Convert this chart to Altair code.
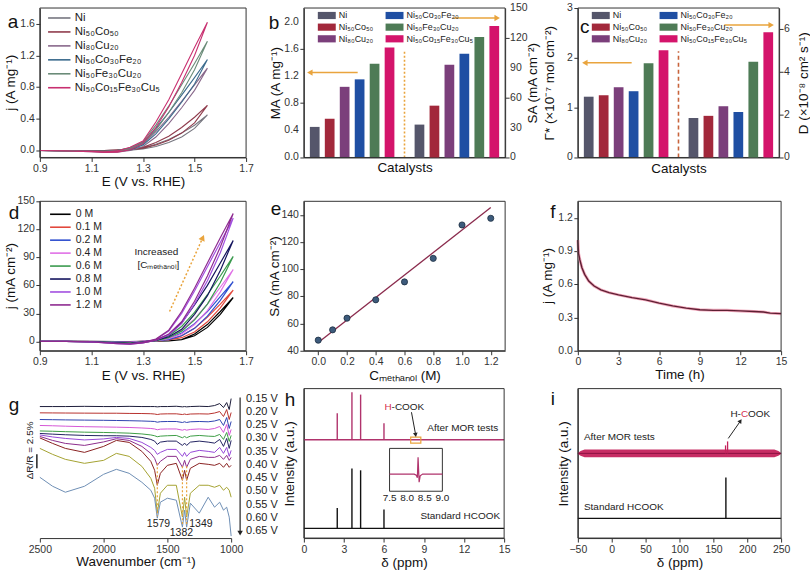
import altair as alt
import pandas as pd

FONT = "Liberation Sans"
INK = "#222222"
AXIS_INK = "#333333"
ORANGE = "#E9A43D"
TICK_FS = 10.5
TITLE_FS = 13.5

# ---------------- categories / colours ----------------
catalysts = ["Ni", "Ni₅₀Co₅₀", "Ni₈₀Cu₂₀", "Ni₅₀Co₃₀Fe₂₀", "Ni₅₀Fe₃₀Cu₂₀", "Ni₅₀Co₁₅Fe₃₀Cu₅"]
bar_colors = ["#55566b", "#a2283b", "#7b3f7b", "#1f4fa3", "#4e7b56", "#d4146b"]
line_colors_a = ["#76767f", "#8f3b4c", "#88678a", "#3b6b8d", "#6a8b78", "#c83070"]

# ---------------- (a) LSV, mass activity ----------------
E_a = [0.90, 1.00, 1.10, 1.15, 1.20, 1.25, 1.30, 1.35, 1.40, 1.45, 1.50, 1.55]
j_a_fwd = [
    [0.0, -0.005, -0.005, 0.0, 0.005, 0.015, 0.03, 0.08, 0.14, 0.22, 0.32, 0.45],
    [0.0, -0.005, -0.005, 0.0, 0.01, 0.02, 0.04, 0.10, 0.18, 0.29, 0.42, 0.57],
    [0.0, -0.005, -0.01, -0.015, -0.005, 0.02, 0.08, 0.24, 0.42, 0.62, 0.83, 1.04],
    [0.0, -0.005, -0.01, -0.01, 0.0, 0.03, 0.10, 0.28, 0.48, 0.70, 0.92, 1.15],
    [0.0, -0.005, -0.01, -0.01, 0.0, 0.035, 0.11, 0.32, 0.56, 0.83, 1.10, 1.38],
    [0.0, -0.005, -0.01, -0.015, -0.005, 0.04, 0.12, 0.36, 0.64, 0.97, 1.30, 1.62],
]
j_a_bwd = [
    [0.0, -0.005, -0.01, -0.01, -0.005, 0.005, 0.02, 0.05, 0.10, 0.17, 0.28, 0.45],
    [0.0, -0.005, -0.01, -0.01, 0.0, 0.01, 0.03, 0.07, 0.13, 0.22, 0.35, 0.57],
    [0.0, -0.005, -0.015, -0.025, -0.02, 0.0, 0.05, 0.17, 0.34, 0.54, 0.76, 1.04],
    [0.0, -0.005, -0.01, -0.015, -0.01, 0.01, 0.07, 0.21, 0.40, 0.61, 0.84, 1.15],
    [0.0, -0.005, -0.01, -0.015, -0.01, 0.02, 0.09, 0.26, 0.48, 0.73, 1.02, 1.38],
    [0.0, -0.005, -0.015, -0.025, -0.02, 0.01, 0.09, 0.29, 0.55, 0.86, 1.20, 1.62],
]
a_yticks = [0, 0.4, 0.8, 1.2, 1.6]

# ---------------- (b), (c) bars ----------------
mass_activity = [0.45, 0.57, 1.04, 1.15, 1.38, 1.62]
specific_activity = [33, 52, 93, 104, 121, 132]
gamma_star = [1.22, 1.25, 1.41, 1.33, 1.89, 2.15]
diffusion_coef = [1.85, 1.95, 2.40, 2.13, 4.48, 5.87]
b_lticks = [0, 0.4, 0.8, 1.2, 1.6, 2.0]
b_rticks = [0, 30, 60, 90, 120, 150]
c_lticks = [0, 1, 2, 3]
c_rticks = [0, 2, 4, 6]

# ---------------- (d) LSV vs methanol concentration ----------------
concentrations = ["0 M", "0.1 M", "0.2 M", "0.4 M", "0.6 M", "0.8 M", "1.0 M", "1.2 M"]
d_colors = ["#000000", "#e2483c", "#2f4fcf", "#e070e6", "#3a9a4e", "#14145e", "#a24fe0", "#8e2a90"]
E_d = [0.90, 1.00, 1.10, 1.20, 1.25, 1.30, 1.35, 1.40, 1.45, 1.50, 1.55, 1.60, 1.65]
j_d_fwd = [
    [0, 0, 0, -0.3, -0.3, 0, 0.2, 0.5, 2, 8, 18, 32, 47],
    [0, 0, -0.2, -0.5, -0.5, 0, 0.4, 2, 6, 14, 26, 40, 55],
    [0, 0, -0.2, -0.5, -0.6, 0, 0.6, 3, 9, 19, 32, 48, 64],
    [0, 0, -0.3, -1, -1, 0, 1, 4, 12, 24, 40, 58, 77],
    [0, 0, -0.3, -1, -1.5, -0.5, 1.2, 6, 16, 31, 50, 70, 91],
    [0, 0, -0.3, -1.5, -2, -0.5, 1.5, 7, 20, 39, 60, 84, 108],
    [0, 0, -0.5, -2, -2.5, -1, 2, 11, 30, 54, 80, 106, 132],
    [0, 0, -0.5, -2, -2.5, -1, 2.5, 12, 32, 57, 84, 111, 137],
]
j_d_bwd = [
    [0, 0, 0, -0.2, -0.2, 0, 0.2, 0.6, 2, 6, 15, 29, 47],
    [0, 0, -0.1, -0.4, -0.4, 0, 0.4, 1.5, 4, 10, 21, 36, 55],
    [0, 0, -0.2, -0.5, -0.6, -0.2, 0.5, 2, 6, 14, 27, 44, 64],
    [0, 0, -0.3, -1, -1.2, -0.4, 0.6, 3, 8, 18, 33, 53, 77],
    [0, 0, -0.3, -1.2, -1.6, -0.8, 0.6, 4, 11, 23, 40, 63, 91],
    [0, 0, -0.4, -1.8, -2.4, -1, 1, 5, 13, 29, 49, 76, 108],
    [0, 0, -0.6, -2.4, -3, -1.5, 1.2, 7, 19, 40, 65, 95, 132],
    [0, 0, -0.6, -2.4, -3, -1.5, 1.4, 8, 21, 43, 70, 101, 137],
]
d_yticks = [0, 30, 60, 90, 120, 150]

# ---------------- (e) SA vs C_methanol ----------------
c_methanol = [0.0, 0.1, 0.2, 0.4, 0.6, 0.8, 1.0, 1.2]
sa_methanol = [47.8, 55.4, 64.0, 77.5, 90.7, 108.0, 132.6, 137.5]
fit_c = [0.0, 1.2]
fit_sa = [46.0, 145.4]
e_yticks = [40, 60, 80, 100, 120, 140]

# ---------------- (f) chronoamperometry ----------------
time_h = [0, 0.05, 0.15, 0.3, 0.5, 0.8, 1.2, 1.7, 2.3, 3, 4, 5, 6, 7, 8, 9, 10, 11, 12, 13, 13.7, 14.2, 15]
j_time = [1.0, 0.88, 0.82, 0.75, 0.69, 0.63, 0.585, 0.55, 0.525, 0.505, 0.48, 0.46, 0.43, 0.405, 0.385,
          0.37, 0.365, 0.365, 0.36, 0.355, 0.35, 0.34, 0.335]
f_yticks = [0, 0.3, 0.6, 0.9, 1.2]

# ---------------- (g) in-situ IR ----------------
potentials = ["0.15 V", "0.20 V", "0.25 V", "0.30 V", "0.35 V", "0.40 V", "0.45 V", "0.50 V", "0.55 V", "0.60 V", "0.65 V"]
g_colors = ["#1d1d3a", "#b8322e", "#2f43b0", "#d556d6", "#3e9e46", "#232361", "#9748d8", "#8c2c8c", "#8a2222", "#a5a332", "#6e8fb5"]
wavenumber = [2500, 2400, 2300, 2150, 2000, 1900, 1800, 1700, 1630, 1600, 1579, 1555, 1500, 1430, 1382, 1365, 1349,
              1320, 1250, 1180, 1130, 1090, 1060, 1035, 1015, 1000]
g_spectra = [
    [132, 132, 132, 132.2, 132, 132, 132.2, 132, 132, 132, 131.7, 132, 132, 132.3, 131.7, 132, 131.7, 132, 132.3, 132, 133, 135, 131, 136, 129, 140],
    [125.7, 125.6, 125.5, 125.4, 125.3, 125.3, 125.1, 125, 124.8, 124.5, 124, 124.5, 124.7, 124.7, 124, 124.5, 124, 124.5, 124.7, 124.5, 125.5, 127, 122, 129, 119, 126],
    [119, 118.8, 118.6, 118.4, 118.2, 118, 117.8, 117.5, 117.2, 117, 116.3, 116.8, 117, 117, 116, 116.7, 116, 116.7, 117, 116.7, 117.5, 119, 113, 121, 110, 117],
    [113, 112.7, 112.3, 111.8, 111.5, 111.3, 111, 110.5, 110, 109.5, 108.7, 109.3, 109.5, 109.5, 108.3, 109, 108.3, 109, 109.5, 109, 110, 112, 106, 114, 103, 109],
    [107.5, 107.2, 106.8, 106.3, 106, 105.7, 105.3, 104.5, 103.5, 102.7, 101.7, 102.3, 102.7, 103, 100.7, 102, 100.7, 102.3, 103, 102.3, 102, 104, 99, 106, 97, 103],
    [105, 104.3, 103.7, 103, 102.7, 102.7, 102.3, 101, 99, 97.3, 94, 96.3, 97.3, 97.3, 93, 95.3, 93, 96.3, 97.3, 96.3, 95.3, 99, 92, 100, 90, 98],
    [103.5, 101.5, 100, 98.5, 99.5, 101, 100, 96, 91, 88, 84, 86, 89, 89, 82, 86, 82, 86, 88, 87, 86, 91, 85, 91, 82, 88],
    [102, 98, 95, 93, 96.5, 99.7, 98, 92, 85, 80, 73, 77, 82, 82, 71, 78, 71, 79, 82, 81, 81, 83, 79, 83, 78, 81],
    [100.5, 95, 90, 86, 92, 98, 96, 87, 77, 68, 53, 65, 73, 75, 58, 68, 58, 70, 75, 74, 73, 75, 71, 75, 71, 73],
    [90, 84, 79, 75, 78, 85, 82, 72, 60, 50, 25, 45, 53, 53, 21, 41, 21, 45, 53, 53, 51, 53, 48, 51, 48, 41],
    [61, 52, 46, 52, 64, 69, 65, 56, 48, 40, 20, 36, 40, 38, 11, 28, 11, 35, 25, 41, 31, 36, 28, 31, 21, 2],
]
peak_wavenumbers = [1579, 1382, 1349]
peak_line_top = [75, 72, 72]
peak_line_bottom = [22, 14, 14]
peak_labels = ["1579", "1382", "1349"]
peak_label_w = [1570, 1390, 1237]
peak_label_h = [14, 5, 14]

# ---------------- (h) 1H NMR ----------------
h_spectra = ["After MOR tests", "Standard HCOOK"]
h_colors = ["#b0336c", "#111111"]
h_baselines = [98.7, 9.7]
h_peak_ppm = [2.5, 3.6, 4.25, 6.0]
h_peak_after = [125.3, 146.3, 144.0, 115.3]
h_peak_std = [30.3, 69.7, 68.0, 28.7]
h_note_text = ["After MOR tests", "Standard HCOOK"]
h_note_x = [9.25, 8.73]
h_note_y = [110.7, 22.3]
inset_ppm = [7.5, 8.2, 8.26, 8.29, 8.31, 8.34, 8.37, 8.44, 9.0]
inset_int = [0, 0, -0.08, -0.25, 1.17, -0.57, -0.12, 0, 0]
inset_ticks = [7.5, 8.0, 8.5, 9.0]

# ---------------- (i) 13C NMR ----------------
i_band_x = [-50, -46, -40, 0, 100, 200, 240, 246, 250]
i_band_lo = [84.5, 82.5, 81.0, 81.0, 81.0, 81.0, 81.0, 82.5, 84.5]
i_band_hi = [85.5, 87.5, 89.0, 89.0, 89.0, 89.0, 89.0, 87.5, 85.5]
i_after_peak_ppm = [168, 171]
i_after_peak_top = [93, 97]
i_std_baseline = 19.7
i_std_peak_ppm = [168.5]
i_std_peak_top = [60.7]
i_note_text = ["After MOR tests", "Standard HCOOK"]
i_note_x = [-41, -41]
i_note_y = [101.3, 31.0]

ONE = pd.DataFrame({"k": [0]})
NOTE_FS = 10


# ============ helpers ============
def AX(**kw):
    return alt.Axis(labelOverlap=False, labelBound=False, labelFlush=False, **kw)


def letter(ch, x, y):
    return alt.Chart(pd.DataFrame({"t": [ch]})).mark_text(
        font=FONT, fontSize=19, color="#111111", align="center", baseline="middle"
    ).encode(x=alt.value(x), y=alt.value(y), text="t:N")


def side_title(txt, x, y):
    """Rotated y-axis title drawn as a text mark."""
    return alt.Chart(pd.DataFrame({"t": [txt]})).mark_text(
        font=FONT, fontSize=TITLE_FS, color="#111111", align="center", baseline="middle", angle=270
    ).encode(x=alt.value(x), y=alt.value(y), text="t:N")


def frame(w, h):
    return alt.Chart(ONE).mark_rect(fillOpacity=0, stroke=AXIS_INK, strokeWidth=1).encode(
        x=alt.value(0), x2=alt.value(w), y=alt.value(0), y2=alt.value(h))


def spacer(w, h):
    return alt.Chart(ONE).mark_point(opacity=0, size=1).encode(
        x=alt.value(0), y=alt.value(0)).properties(width=w, height=h)


def tick_labels(vals, fmt, field, scale, axis, x=-5, align="right"):
    """Tick labels of a y axis, drawn as text placed through the panel's own y scale."""
    df = pd.DataFrame({field: vals, "lbl": [fmt.format(v) for v in vals]})
    return alt.Chart(df).mark_text(font=FONT, fontSize=TICK_FS, color=AXIS_INK, align=align,
                                   baseline="middle").encode(
        x=alt.value(x), y=alt.Y(f"{field}:Q", scale=scale, axis=axis), text="lbl:N")


def scan_frame(xs, fwd, bwd, names, key):
    rows = []
    for name, f, b in zip(names, fwd, bwd):
        assert len(f) == len(xs) and len(b) == len(xs)
        for i, (x, v) in enumerate(zip(xs, f)):
            rows.append({key: name, "x": x, "y": v, "o": i})
        for i, (x, v) in enumerate(zip(xs[::-1], b[::-1])):
            rows.append({key: name, "x": x, "y": v, "o": len(xs) + i})
    return pd.DataFrame(rows)


def qscale(dom):
    return alt.Scale(domain=dom, nice=False, zero=False)


# ============ (a) ============
W1, H1 = 207, 150
a_df = scan_frame(E_a, j_a_fwd, j_a_bwd, catalysts, "cat_a")
a_x = alt.X("x:Q", scale=qscale([0.9, 1.7]),
            axis=AX(values=[0.9, 1.1, 1.3, 1.5, 1.7], format=".1f", title="E (V vs. RHE)", titlePadding=1))
a_ys = qscale([-0.088, 1.80])
a_yax = AX(values=a_yticks, labels=False, title=None)
a_lines = alt.Chart(a_df).mark_line(strokeWidth=1.1).encode(
    x=a_x, y=alt.Y("y:Q", scale=a_ys, axis=a_yax), order="o:Q",
    color=alt.Color("cat_a:N", scale=alt.Scale(domain=catalysts, range=line_colors_a),
                    legend=alt.Legend(title=None, orient="none", legendX=11, legendY=1.5,
                                      symbolType="M-1.5,0H1.5", symbolSize=225, symbolStrokeWidth=1.6,
                                      labelFontSize=11.5, labelOffset=7, rowPadding=0, padding=0,
                                      labelFont=FONT, labelColor=INK)))
panel_a = alt.layer(a_lines, frame(W1, H1), letter("a", -27, 14), side_title("j (A mg⁻¹)", -29, H1 / 2),
                    tick_labels(a_yticks, "{:.1f}", "y", a_ys, a_yax)).properties(width=W1, height=H1)

# ============ (b) / (c) ============
slots = [f"L{i}" for i in range(6)] + ["sep"] + [f"R{i}" for i in range(6)]


def bar_panel(key, left_vals, right_vals, ldom, lvals, lfmt, ltitle, rdom, rvals, rfmt, rtitle, rtitle_x,
              sep_top, sep_color, sep_dash, l_arrow_y, l_arrow_x, r_arrow_y, r_arrow_x, cat_pad, let, W, H):
    xs = alt.Scale(domain=slots, paddingInner=0.35, paddingOuter=0.4)
    xax = AX(title="Catalysts", labels=False, ticks=False, titlePadding=cat_pad)
    X = alt.X("slot:N", scale=xs, axis=xax)
    color = alt.Color(f"{key}:N", scale=alt.Scale(domain=catalysts, range=bar_colors),
                      legend=alt.Legend(title=None, orient="none", legendX=17, legendY=1.5, columns=2,
                                        symbolType="M-1.5,-0.6H1.5V0.6H-1.5Z", symbolSize=144, symbolStrokeWidth=0,
                                        labelFontSize=9, labelOffset=6, columnPadding=12, rowPadding=0.7,
                                        padding=0, labelFont=FONT, labelColor=INK))
    ls = qscale(ldom)
    rs = qscale(rdom)
    lax = AX(values=lvals, labels=False, title=ltitle, titleX=-28, titleBaseline="middle")
    rax = AX(orient="right", values=rvals, labels=False, title=rtitle, titleX=rtitle_x, titleAngle=270,
             titleBaseline="middle")
    left_df = pd.DataFrame({"slot": slots[:6], key: catalysts, "v": left_vals})
    right_df = pd.DataFrame({"slot": slots[7:], key: catalysts, "v": right_vals})
    left_bars = alt.Chart(left_df).mark_bar().encode(
        x=X, y=alt.Y("v:Q", scale=ls, axis=lax), color=color)
    sep = alt.Chart(pd.DataFrame({"slot": ["sep"], "v": [0.0], "v2": [sep_top]})).mark_rule(
        color=sep_color, strokeDash=sep_dash, strokeWidth=1.6).encode(
        x=X, y=alt.Y("v:Q", scale=ls, axis=lax), y2="v2:Q")
    la_line = alt.Chart(ONE).mark_rule(color=ORANGE, strokeWidth=1.5).encode(
        x=alt.value(l_arrow_x[0]), x2=alt.value(l_arrow_x[1]), y=alt.datum(l_arrow_y))
    la_head = alt.Chart(ONE).mark_point(shape="triangle-left", filled=True, size=40, color=ORANGE, opacity=1).encode(
        x=alt.value(l_arrow_x[0]), y=alt.datum(l_arrow_y))
    right_bars = alt.Chart(right_df).mark_bar().encode(
        x=X, y=alt.Y("v:Q", scale=rs, axis=rax), color=color)
    ra_line = alt.Chart(ONE).mark_rule(color=ORANGE, strokeWidth=1.5).encode(
        x=alt.value(r_arrow_x[0]), x2=alt.value(r_arrow_x[1]), y=alt.datum(r_arrow_y))
    ra_head = alt.Chart(ONE).mark_point(shape="triangle-right", filled=True, size=40, color=ORANGE, opacity=1).encode(
        x=alt.value(r_arrow_x[1]), y=alt.datum(r_arrow_y))
    left = alt.layer(left_bars, sep, la_line, la_head, tick_labels(lvals, lfmt, "v", ls, lax),
                     frame(W, H), let)
    right = alt.layer(right_bars, ra_line, ra_head,
                      tick_labels(rvals, rfmt, "v", rs, rax, x=W + 5, align="left"))
    return alt.layer(left, right).resolve_scale(y="independent").properties(width=W, height=H)


panel_b = bar_panel("cat_b", mass_activity, specific_activity, [0, 2.2], b_lticks, "{:.1f}",
                    "MA (A mg⁻¹)", [0, 150], b_rticks, "{:g}", "SA (mA cm⁻²)", 27,
                    1.56, ORANGE, [2, 2], 1.25, (6, 54), 140, (150, 194), 3.5, letter("b", -30, 15), 202, H1)
panel_c = bar_panel("cat_c", gamma_star, diffusion_coef, [0, 3], c_lticks, "{:g}",
                    "Γ* (×10⁻⁷ mol cm⁻²)", [0, 7], c_rticks, "{:g}", "D (×10⁻⁸ cm² s⁻¹)", 24,
                    2.13, "#c8643c", [4, 3], 1.9, (7, 54), 6.2, (147, 194), 4.5, letter("c", 7, 19), 202, H1)

# ============ (d) ============
H2 = 150
d_df = scan_frame(E_d, j_d_fwd, j_d_bwd, concentrations, "conc")
d_x = alt.X("x:Q", scale=qscale([0.9, 1.7]),
            axis=AX(values=[0.9, 1.1, 1.3, 1.5, 1.7], format=".1f", title="E (V vs. RHE)", titlePadding=1))
d_ys = qscale([-10, 150])
d_yax = AX(values=d_yticks, labels=False, title=None)
d_y = alt.Y("y:Q", scale=d_ys, axis=d_yax)
d_lines = alt.Chart(d_df).mark_line(strokeWidth=1.2).encode(
    x=d_x, y=d_y, order="o:Q",
    color=alt.Color("conc:N", scale=alt.Scale(domain=concentrations, range=d_colors),
                    legend=alt.Legend(title=None, orient="none", legendX=13.6, legendY=6,
                                      symbolType="M-1.8,0H1.8", symbolSize=132, symbolStrokeWidth=1.6,
                                      labelFontSize=10.5, labelOffset=8.5, rowPadding=0, padding=0,
                                      labelFont=FONT, labelColor=INK)))
d_arrow = alt.Chart(pd.DataFrame({"x": [1.403], "y": [32.0], "x2": [1.532], "y2": [111.0]})).mark_rule(
    color=ORANGE, strokeDash=[2, 2], strokeWidth=1.5).encode(x=d_x, y=d_y, x2="x2:Q", y2="y2:Q")
d_head = alt.Chart(pd.DataFrame({"x": [1.532], "y": [111.0]})).mark_point(
    shape="triangle-up", angle=24, filled=True, size=45, color=ORANGE, opacity=1).encode(x=d_x, y=d_y)
d_text = alt.Chart(pd.DataFrame({"t": ["Increased", "[Cₘₑₜₕₐₙₒₗ]"], "x": [1.352, 1.36], "y": [95.6, 81.7]})).mark_text(
    font=FONT, fontSize=NOTE_FS, color=INK).encode(x=d_x, y=d_y, text="t:N")
panel_d = alt.layer(d_lines, d_arrow, d_head, d_text, frame(W1, H2), letter("d", -26, 12),
                    side_title("j (mA cm⁻²)", -29, H2 / 2),
                    tick_labels(d_yticks, "{:g}", "y", d_ys, d_yax)).properties(width=W1, height=H2)

# ============ (e) ============
e_x = alt.X("c:Q", scale=qscale([-0.1, 1.3]),
            axis=AX(values=[0, 0.2, 0.4, 0.6, 0.8, 1.0, 1.2], format=".1f", title="Cₘₑₜₕₐₙₒₗ (M)", titlePadding=1))
e_ys = qscale([40, 150])
e_yax = AX(values=e_yticks, labels=False, title="SA (mA cm⁻²)", titleX=-29, titleBaseline="middle")
e_y = alt.Y("sa:Q", scale=e_ys, axis=e_yax)
e_fit = alt.Chart(pd.DataFrame({"c": fit_c, "sa": fit_sa})).mark_line(color="#8a2a4c", strokeWidth=1.3).encode(x=e_x, y=e_y)
e_pts = alt.Chart(pd.DataFrame({"c": c_methanol, "sa": sa_methanol})).mark_point(
    filled=True, size=38, color="#3d5b7c", stroke="#1c2d40", strokeWidth=0.8, opacity=1).encode(x=e_x, y=e_y)
panel_e = alt.layer(e_fit, e_pts, frame(202, H2), letter("e", -28, 8),
                    tick_labels(e_yticks, "{:g}", "sa", e_ys, e_yax)).properties(width=202, height=H2)

# ============ (f) ============
f_x = alt.X("t:Q", scale=qscale([0, 15]), axis=AX(values=[0, 3, 6, 9, 12, 15], title="Time (h)", titlePadding=0))
f_ys = qscale([0, 1.35])
f_yax = AX(values=f_yticks, labels=False, title=None)
f_y = alt.Y("j:Q", scale=f_ys, axis=f_yax)
f_df = pd.DataFrame({"t": time_h, "j": j_time})
f_halo = alt.Chart(f_df).mark_line(color="#f2a9bd", strokeWidth=3).encode(x=f_x, y=f_y)
f_line = alt.Chart(f_df).mark_line(color="#5e1f33", strokeWidth=1.4).encode(x=f_x, y=f_y)
panel_f = alt.layer(f_halo, f_line, frame(204, H2), letter("f", -25, 11), side_title("j (A mg⁻¹)", -30, H2 / 2),
                    tick_labels(f_yticks, "{:.1f}", "j", f_ys, f_yax)).properties(width=204, height=H2)

# ============ (g) ============
WG, H3 = 192, 150
g_rows = []
for pot, spec in zip(potentials, g_spectra):
    assert len(spec) == len(wavenumber)
    for i, (w, h) in enumerate(zip(wavenumber, spec)):
        g_rows.append({"pot": pot, "w": w, "h": h, "o": i})
g_df = pd.DataFrame(g_rows)
g_x = alt.X("w:Q", scale=qscale([2500, 1000]),
            axis=AX(values=[2500, 2000, 1500, 1000], format="d", title="Wavenumber (cm⁻¹)", titlePadding=0))
g_yscale = qscale([0, 150])
g_lines = alt.Chart(g_df).mark_line(strokeWidth=1).encode(
    x=g_x, y=alt.Y("h:Q", scale=g_yscale, axis=None), order="o:Q",
    color=alt.Color("pot:N", scale=alt.Scale(domain=potentials, range=g_colors), legend=None))
g_peaks = alt.Chart(pd.DataFrame({"w": peak_wavenumbers, "h": peak_line_top, "h2": peak_line_bottom})).mark_rule(
    color=ORANGE, strokeDash=[2, 2], strokeWidth=1.2).encode(x=g_x, y=alt.Y("h:Q", scale=g_yscale, axis=None), y2="h2:Q")
g_plabels = alt.Chart(pd.DataFrame({"t": peak_labels, "w": peak_label_w, "h": peak_label_h})).mark_text(
    font=FONT, fontSize=10.5, color=INK).encode(x=g_x, y=alt.Y("h:Q", scale=g_yscale, axis=None), text="t:N")
g_scale_text = alt.Chart(pd.DataFrame({"t": ["ΔR/R = 2.5%"]})).mark_text(
    font=FONT, fontSize=10, color=INK, angle=270).encode(x=alt.value(-10), y=alt.value(62), text="t:N")
g_scale_bar = alt.Chart(ONE).mark_rule(color=INK, strokeWidth=1.5).encode(
    x=alt.value(-3), y=alt.value(66), y2=alt.value(80))
g_arrow = alt.Chart(ONE).mark_rule(color=INK, strokeWidth=1.2).encode(
    x=alt.value(201), y=alt.value(9), y2=alt.value(143))
g_arrow_head = alt.Chart(ONE).mark_point(shape="triangle-down", filled=True, size=30, color=INK, opacity=1).encode(
    x=alt.value(201), y=alt.value(145))
g_main = alt.layer(g_lines, g_peaks, g_plabels, g_scale_text, g_scale_bar, g_arrow, g_arrow_head, letter("g", -26, 16))
g_potlabels = alt.Chart(pd.DataFrame({"pot": potentials})).mark_text(
    font=FONT, fontSize=11, align="left", baseline="middle", color=INK).encode(
    x=alt.value(207),
    y=alt.Y("pot:N", scale=alt.Scale(type="point", domain=potentials, range=[10, 143], padding=0), axis=None),
    text="pot:N")
panel_g = alt.layer(g_main, g_potlabels).resolve_scale(y="independent").properties(width=WG, height=H3)

# ============ (h) ============
WH = 201
hx = alt.X("x:Q", scale=qscale([0, 15]), axis=AX(values=[0, 3, 6, 9, 12, 15], title="δ (ppm)", titlePadding=1))
hy = alt.Y("y:Q", scale=qscale([0, 150]),
           axis=AX(title="Intensity (a.u.)", labels=False, ticks=False, titleX=-14, titleBaseline="middle"))
hcolor = alt.Color("spec:N", scale=alt.Scale(domain=h_spectra, range=h_colors), legend=None)
h_base = alt.Chart(pd.DataFrame({"spec": h_spectra, "x": [0, 0], "x2": [15, 15], "y": h_baselines})).mark_rule(
    strokeWidth=1.3).encode(x=hx, x2="x2:Q", y=hy, color=hcolor)
stick_rows = []
for ppm, top in zip(h_peak_ppm, h_peak_after):
    stick_rows.append({"spec": h_spectra[0], "x": ppm, "y": h_baselines[0], "y2": top})
for ppm, top in zip(h_peak_ppm, h_peak_std):
    stick_rows.append({"spec": h_spectra[1], "x": ppm, "y": h_baselines[1], "y2": top})
h_sticks = alt.Chart(pd.DataFrame(stick_rows)).mark_rule(strokeWidth=1.4).encode(x=hx, y=hy, y2="y2:Q", color=hcolor)
h_notes = alt.Chart(pd.DataFrame({"t": h_note_text, "x": h_note_x, "y": h_note_y})).mark_text(
    font=FONT, fontSize=NOTE_FS, align="left", color=INK).encode(x=hx, y=hy, text="t:N")
h_hl1 = alt.Chart(pd.DataFrame({"t": ["H"], "x": [6.57], "y": [132.0]})).mark_text(
    font=FONT, fontSize=NOTE_FS, align="right", color="#d6304f").encode(x=hx, y=hy, text="t:N")
h_hl2 = alt.Chart(pd.DataFrame({"t": ["-COOK"], "x": [6.57], "y": [132.0]})).mark_text(
    font=FONT, fontSize=NOTE_FS, align="left", color=INK).encode(x=hx, y=hy, text="t:N")
h_box = alt.Chart(pd.DataFrame({"x": [8.0], "x2": [8.76], "y": [95.3], "y2": [101.3]})).mark_rect(
    fillOpacity=0, stroke=ORANGE, strokeWidth=1.2).encode(x=hx, x2="x2:Q", y=hy, y2="y2:Q")
h_arrow = alt.Chart(pd.DataFrame({"x": [8.06], "y": [126.3], "x2": [8.36], "y2": [104.5]})).mark_rule(
    color=INK, strokeWidth=1).encode(x=hx, y=hy, x2="x2:Q", y2="y2:Q")
h_head = alt.Chart(pd.DataFrame({"x": [8.37], "y": [103.5]})).mark_point(
    shape="triangle-down", angle=350, filled=True, size=22, color=INK, opacity=1).encode(x=hx, y=hy)
h_main = alt.layer(h_base, h_sticks, h_notes, h_hl1, h_hl2, h_box, h_arrow, h_head, frame(WH, H3), letter("h", -14, 11))

ixs = alt.Scale(domain=[7.5, 9.0], range=[86, 139], nice=False, zero=False)
iys = alt.Scale(domain=[-1.2, 1.8], range=[103, 60], nice=False, zero=False)
h_inset_frame = alt.Chart(pd.DataFrame({"x": [7.5], "x2": [9.0], "y": [-1.2], "y2": [1.8]})).mark_rect(
    fillOpacity=0, stroke=AXIS_INK, strokeWidth=1).encode(
    x=alt.X("x:Q", scale=ixs, axis=None), x2="x2:Q", y=alt.Y("y:Q", scale=iys, axis=None), y2="y2:Q")
h_inset_line = alt.Chart(pd.DataFrame({"x": inset_ppm, "y": inset_int})).mark_line(
    color="#b0336c", strokeWidth=1.2).encode(x=alt.X("x:Q", scale=ixs, axis=None), y=alt.Y("y:Q", scale=iys, axis=None))
h_inset_ticks = alt.Chart(pd.DataFrame({"x": inset_ticks, "t": ["7.5", "8.0", "8.5", "9.0"]})).mark_text(
    font=FONT, fontSize=10, color=INK, baseline="middle").encode(
    x=alt.X("x:Q", scale=ixs, axis=None), y=alt.value(110), text="t:N")
h_inset = alt.layer(h_inset_frame, h_inset_line, h_inset_ticks)
panel_h = alt.layer(h_main, h_inset).resolve_scale(x="independent", y="independent").properties(width=WH, height=H3)

# ============ (i) ============
WI = 204
ix = alt.X("x:Q", scale=qscale([-50, 250]),
           axis=AX(values=[-50, 0, 50, 100, 150, 200, 250], title="δ (ppm)", titlePadding=1))
iy = alt.Y("y:Q", scale=qscale([0, 150]),
           axis=AX(title="Intensity (a.u.)", labels=False, ticks=False, titleX=-14, titleBaseline="middle"))
i_band = alt.Chart(pd.DataFrame({"x": i_band_x, "y": i_band_lo, "y2": i_band_hi})).mark_area(
    color="#c4225c", opacity=0.95).encode(x=ix, y=iy, y2="y2:Q")
i_mid = alt.Chart(pd.DataFrame({"x": [-50, 250], "y": [85.0, 85.0]})).mark_line(
    color="#8c1242", strokeWidth=1).encode(x=ix, y=iy)
i_after_peaks = alt.Chart(pd.DataFrame({"x": i_after_peak_ppm, "y": [85.0, 85.0], "y2": i_after_peak_top})).mark_rule(
    color="#c4225c", strokeWidth=1.3).encode(x=ix, y=iy, y2="y2:Q")
i_std = alt.Chart(pd.DataFrame({"x": [-50], "x2": [250], "y": [i_std_baseline]})).mark_rule(
    color="#111111", strokeWidth=1.3).encode(x=ix, x2="x2:Q", y=iy)
i_std_peak = alt.Chart(pd.DataFrame({"x": i_std_peak_ppm, "y": [i_std_baseline], "y2": i_std_peak_top})).mark_rule(
    color="#111111", strokeWidth=1.4).encode(x=ix, y=iy, y2="y2:Q")
i_notes = alt.Chart(pd.DataFrame({"t": i_note_text, "x": i_note_x, "y": i_note_y})).mark_text(
    font=FONT, fontSize=NOTE_FS, align="left", color=INK).encode(x=ix, y=iy, text="t:N")
i_hl1 = alt.Chart(pd.DataFrame({"t": ["H-"], "x": [190.7], "y": [125.0]})).mark_text(
    font=FONT, fontSize=NOTE_FS, align="right", color=INK).encode(x=ix, y=iy, text="t:N")
i_hl2 = alt.Chart(pd.DataFrame({"t": ["C"], "x": [190.7], "y": [125.0]})).mark_text(
    font=FONT, fontSize=NOTE_FS, align="left", color="#d6304f").encode(x=ix, y=iy, text="t:N")
i_hl3 = alt.Chart(pd.DataFrame({"t": ["OOK"], "x": [190.7], "y": [125.0]})).mark_text(
    font=FONT, fontSize=NOTE_FS, align="left", dx=7.2, color=INK).encode(x=ix, y=iy, text="t:N")
i_arrow = alt.Chart(pd.DataFrame({"x": [172.0], "y": [100.0], "x2": [189.0], "y2": [116.5]})).mark_rule(
    color=INK, strokeWidth=1).encode(x=ix, y=iy, x2="x2:Q", y2="y2:Q")
i_head = alt.Chart(pd.DataFrame({"x": [190.0], "y": [117.5]})).mark_point(
    shape="triangle-up", angle=34, filled=True, size=22, color=INK, opacity=1).encode(x=ix, y=iy)
panel_i = alt.layer(i_band, i_mid, i_after_peaks, i_std, i_std_peak, i_notes, i_hl1, i_hl2, i_hl3,
                    i_arrow, i_head, frame(WI, H3), letter("i", -25, 10)).properties(width=WI, height=H3)

# ============ layout: 5x5 grid with spacer cells, flush bounds ============
GAP1, GAP2 = 58, 73
ROWGAP1, ROWGAP2 = 44, 38
cells = [
    panel_a, spacer(GAP1, H1), panel_b, spacer(GAP2, H1), panel_c,
    spacer(1, ROWGAP1), spacer(1, ROWGAP1), spacer(1, ROWGAP1), spacer(1, ROWGAP1), spacer(1, ROWGAP1),
    panel_d, spacer(GAP1, H2), panel_e, spacer(GAP2, H2), panel_f,
    spacer(1, ROWGAP2), spacer(1, ROWGAP2), spacer(1, ROWGAP2), spacer(1, ROWGAP2), spacer(1, ROWGAP2),
    panel_g, spacer(GAP1, H3), panel_h, spacer(GAP2, H3), panel_i,
]

chart = alt.concat(*cells, columns=5, spacing=0, bounds="flush").resolve_scale(
    color="independent"
).properties(
    padding={"left": 3, "top": 1, "right": 0, "bottom": 0}
).configure(font=FONT, background="white").configure_axis(
    labelFont=FONT, titleFont=FONT, labelFontSize=TICK_FS, titleFontSize=TITLE_FS, titleFontWeight="normal",
    labelColor=AXIS_INK, titleColor="#111111", domainColor=AXIS_INK, tickColor=AXIS_INK,
    tickSize=4, labelPadding=2, grid=False, labelOverlap=False
).configure_view(stroke="transparent").configure_text(font=FONT)

chart.save("out.html", embed_options={"renderer": "svg", "actions": False})
